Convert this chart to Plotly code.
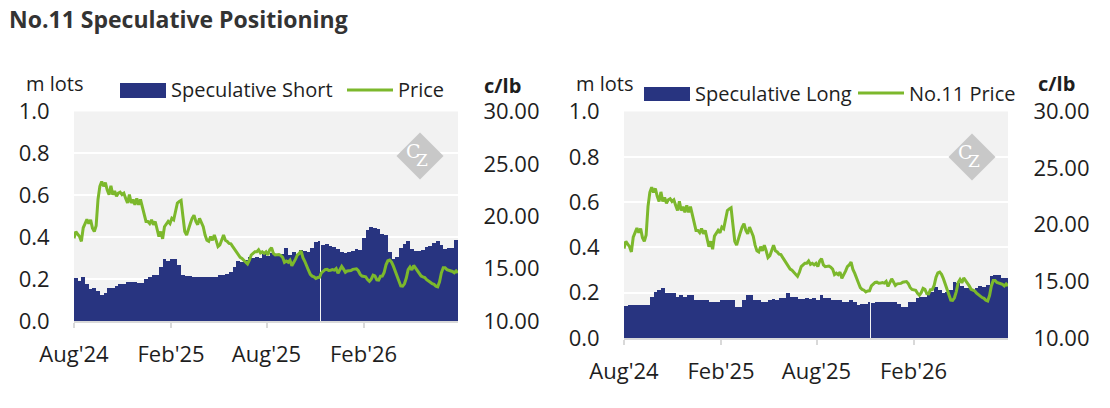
import pandas as pd
import plotly.graph_objects as go

# the page puts the figure 8px in from the top-left corner
OFF = 8
W, H = 1110 - OFF, 408 - OFF

# weekly COT positions (m lots) and No.11 price (c/lb)
weeks = pd.date_range("2024-08-01", periods=104, freq="7D")
price_dates = pd.date_range("2024-08-01", periods=209, freq="84h")

spec_short = [
    0.208, 0.195, 0.214, 0.179, 0.157, 0.16, 0.147, 0.128, 0.136, 0.16,
    0.16, 0.17, 0.179, 0.179, 0.189, 0.189, 0.189, 0.184, 0.184, 0.203,
    0.214, 0.224, 0.222, 0.261, 0.299, 0.291, 0.296, 0.296, 0.27, 0.222,
    0.219, 0.216, 0.211, 0.214, 0.214, 0.214, 0.214, 0.211, 0.211, 0.224,
    0.224, 0.229, 0.238, 0.262, 0.288, 0.285, 0.294, 0.31, 0.304, 0.307,
    0.304, 0.323, 0.315,
    0.328, 0.323, 0.323, 0.323, 0.349, 0.317, 0.33, 0.32, 0.339, 0.336,
    0.331, 0.349, 0.378, 0.382,
    0.363, 0.368, 0.36, 0.358, 0.344, 0.33, 0.326, 0.331, 0.336, 0.344,
    0.341, 0.4, 0.435, 0.45, 0.445, 0.442, 0.418, 0.411, 0.33, 0.299,
    0.307, 0.352, 0.371, 0.382, 0.344, 0.336, 0.336, 0.339, 0.355, 0.362,
    0.373, 0.386, 0.366, 0.344, 0.352, 0.352, 0.387,
]

spec_long = [
    0.144, 0.15, 0.146, 0.15, 0.15, 0.146, 0.15, 0.185, 0.207, 0.212,
    0.221, 0.203, 0.203, 0.203, 0.185, 0.19, 0.185, 0.19, 0.19, 0.168,
    0.168, 0.168, 0.168, 0.159, 0.163, 0.163, 0.168, 0.172, 0.172, 0.172,
    0.137, 0.141, 0.172, 0.19, 0.19, 0.172, 0.168, 0.163, 0.163, 0.168,
    0.176, 0.172, 0.181, 0.181, 0.199, 0.185, 0.185, 0.176, 0.176, 0.181,
    0.176, 0.181, 0.172,
    0.194, 0.181, 0.181, 0.172, 0.168, 0.168, 0.159, 0.163, 0.168, 0.159,
    0.146, 0.154, 0.154, 0.163,
    0.157, 0.159, 0.159, 0.162, 0.159, 0.163, 0.159, 0.154, 0.141, 0.137,
    0.159, 0.159, 0.181, 0.185, 0.185, 0.203, 0.207, 0.229, 0.216, 0.203,
    0.207, 0.216, 0.251, 0.247, 0.234, 0.225, 0.225, 0.212, 0.221, 0.234,
    0.229, 0.238, 0.274, 0.282, 0.282, 0.269, 0.265,
]

price = [
    17.9, 18.54, 18.3, 18.06, 17.6, 18.9, 19.3, 19.7, 19.3, 19.66,
    18.86, 18.54, 19.1, 21.6, 22.86, 23.3, 22.86, 23.2, 22.5, 22.06,
    22.9, 22.06, 22.4, 21.9, 22.2, 22.3, 22.06, 22.2, 21.7, 21.26,
    22.06, 21.26, 21.6, 21.1, 21.7, 21.1, 21.6, 20.9, 20.3, 19.5,
    19.5, 19.3, 19.66, 19.2, 19.5, 18.86, 18.06, 18.54, 17.84, 19.0,
    19.3, 19.5, 19.3, 19.8, 19.66, 20.46, 21.26, 21.4, 21.5, 20.0,
    18.54, 18.2, 18.86, 19.3, 19.8, 20.1, 19.5, 19.2, 19.8, 19.3,
    19.0, 18.2, 17.7, 17.6, 18.06, 17.7, 18.2, 17.7, 17.1, 17.26,
    17.65, 18.2, 17.7, 17.6, 17.4, 17.36, 17.1, 16.85, 16.6, 16.3,
    16.08, 15.98, 15.8, 15.66, 15.44, 15.8, 16.3, 16.46, 16.6, 16.6,
    16.8, 16.5, 16.6, 16.46, 16.6, 16.3, 16.8,
    17.0, 16.45, 16.3, 16.35, 16.35, 16.25, 16.08, 15.6, 15.72, 15.6,
    15.8, 15.28, 15.53, 15.9, 16.3, 16.45, 16.7, 16.05, 15.7, 15.35,
    14.85, 14.45, 14.28, 14.22, 14.07, 14.15, 14.16, 14.6, 14.75, 14.9,
    14.93, 14.83, 14.85, 14.9, 14.85, 15.0, 14.56, 14.98, 15.22, 14.95,
    14.65, 14.78, 14.78, 14.82, 14.93, 14.95, 14.98, 14.8, 14.46, 14.29,
    14.22, 14.22, 13.95, 13.78, 14.0, 14.38, 14.3, 13.92, 13.9, 14.27,
    14.28, 14.64, 15.36, 15.75, 15.82, 15.62, 15.24, 14.73, 14.17, 13.66,
    13.35, 13.32, 13.55, 14.1, 14.9, 15.16, 14.87, 15.3, 15.06, 14.9,
    14.6, 14.3, 14.22, 14.15, 13.95, 13.86, 13.7, 13.57, 13.5, 13.33,
    13.27, 13.75, 14.6, 15.08, 15.08, 14.9, 14.85, 14.84, 14.73, 14.6,
    14.78, 14.6,
]

tick_dates = ["2024-08-01", "2025-02-01", "2025-08-01", "2026-02-01"]
tick_labels = ["Aug'24", "Feb'25", "Aug'25", "Feb'26"]

NAVY = "#283480"
GREEN = "#7cb82c"
GRID_BG = "#f2f2f2"
AXIS_GREY = "#d9d9d9"
TXT = "#1e1e1e"
FONT = "Open Sans"

DAY = 86400000
bar_w = [7 * DAY] * len(weeks)
bar_w[66] = 5 * DAY  # thin white break in the source


def px(x):
    return (x - OFF) / W


def py(y):
    return 1 - (y - OFF) / H


fig = go.Figure()

# left panel
fig.add_trace(go.Bar(x=weeks, y=spec_short, width=bar_w, offset=0,
                     marker=dict(color=NAVY, line=dict(width=0)),
                     xaxis="x", yaxis="y", showlegend=False))
fig.add_trace(go.Scatter(x=price_dates, y=price, mode="lines",
                         line=dict(color=GREEN, width=3),
                         xaxis="x", yaxis="y2", showlegend=False))
# right panel
fig.add_trace(go.Bar(x=weeks, y=spec_long, width=bar_w, offset=0,
                     marker=dict(color=NAVY, line=dict(width=0)),
                     xaxis="x2", yaxis="y3", showlegend=False))
fig.add_trace(go.Scatter(x=price_dates, y=price, mode="lines",
                         line=dict(color=GREEN, width=3),
                         xaxis="x2", yaxis="y4", showlegend=False))

tickfont = dict(family=FONT, size=22, color=TXT)
xcommon = dict(type="date", range=["2024-08-01", "2026-07-30"],
               tickvals=tick_dates, ticktext=tick_labels,
               ticks="outside", ticklen=5, tickwidth=2, tickcolor=AXIS_GREY,
               showline=True, linecolor=AXIS_GREY, linewidth=2,
               showgrid=False, zeroline=False, tickfont=tickfont,
               ticklabelstandoff=8, automargin=False)
ycommon = dict(range=[0, 1], dtick=0.2, tickformat=".1f",
               showgrid=True, gridcolor="white", gridwidth=2,
               zeroline=False, showline=False,
               ticks="outside", ticklen=19, tickcolor="rgba(0,0,0,0)",
               tickfont=tickfont, automargin=False)
pcommon = dict(range=[10, 30], dtick=5, tickformat=".2f", side="right",
               showgrid=False, zeroline=False, showline=False,
               ticks="outside", ticklen=20, tickcolor="rgba(0,0,0,0)",
               tickfont=tickfont, automargin=False)

fig.update_layout(
    width=W, height=H,
    margin=dict(l=0, r=0, t=0, b=0, autoexpand=False),
    paper_bgcolor="white", plot_bgcolor=GRID_BG,
    bargap=0, barmode="overlay",
    font=dict(family=FONT, color=TXT),
    xaxis=dict(domain=[px(74), px(458)], anchor="y", **xcommon),
    yaxis=dict(domain=[py(321), py(111.5)], anchor="x", **ycommon),
    yaxis2=dict(overlaying="y", anchor="x", **pcommon),
    xaxis2=dict(domain=[px(624), px(1008)], anchor="y3", **xcommon),
    yaxis3=dict(domain=[py(338), py(111.5)], anchor="x2", **ycommon),
    yaxis4=dict(overlaying="y3", anchor="x2", **pcommon),
)

shapes = []
ann = []


def text(x, y, s, size=20, bold=False, color=TXT, anchor="left", family=FONT):
    ann.append(dict(x=px(x), y=py(y), xref="paper", yref="paper", text=s,
                    showarrow=False, xanchor=anchor, yanchor="middle",
                    font=dict(family=family, size=size, color=color,
                              weight="bold" if bold else "normal")))


# title
text(7, 19, "No.11 Speculative Positioning", size=23, bold=True, color="#333333")

# axis captions
text(24, 84, "m lots")
text(482, 85, "c/lb", bold=True)
text(574, 84, "m lots")
text(1036, 84, "c/lb", bold=True)

# hand-drawn legends
for (x0, x1, y0, y1) in [(120, 166, 83, 98), (644, 690, 87, 101)]:
    shapes.append(dict(type="rect", xref="paper", yref="paper",
                       x0=px(x0), x1=px(x1), y0=py(y1), y1=py(y0),
                       fillcolor=NAVY, line=dict(width=0)))
for (x0, x1, y) in [(347, 393, 90), (858, 904, 93)]:
    shapes.append(dict(type="line", xref="paper", yref="paper",
                       x0=px(x0), x1=px(x1), y0=py(y), y1=py(y),
                       line=dict(color=GREEN, width=3)))
text(169, 90, "Speculative Short")
text(396, 90, "Price")
text(693, 94, "Speculative Long")
text(907, 93, "No.11 Price")

# CZ watermark
for cx, cy in [(420, 156), (972, 157)]:
    h = 23.5
    path = "M {} {} L {} {} L {} {} L {} {} Z".format(
        px(cx), py(cy - h), px(cx + h), py(cy), px(cx), py(cy + h), px(cx - h), py(cy))
    shapes.append(dict(type="path", xref="paper", yref="paper", path=path,
                       fillcolor="#c8c8c8", line=dict(width=0), layer="above"))
    text(cx - 7, cy - 5, "C", size=19, color="white", anchor="center",
         family="DejaVu Serif")
    text(cx + 2, cy + 4, "Z", size=17, color="white", anchor="center",
         family="DejaVu Serif")

fig.update_layout(shapes=shapes, annotations=ann)

fig.write_html("out.html")
